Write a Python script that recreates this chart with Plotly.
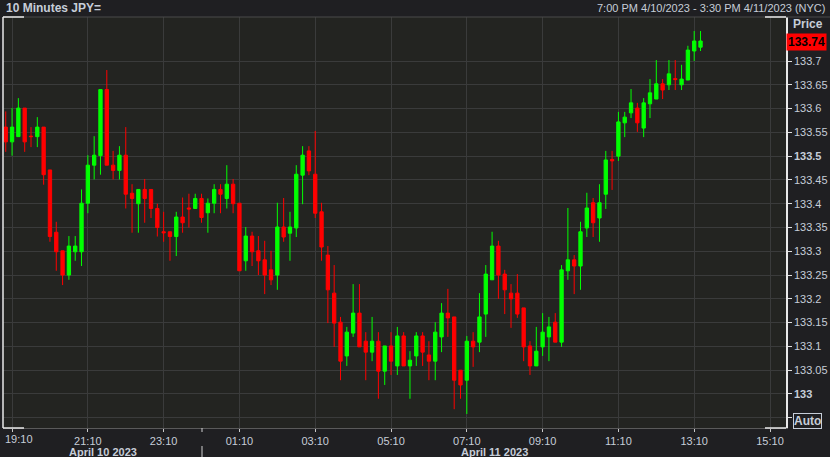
import pandas as pd
import plotly.graph_objects as go

# ---- data (10-minute JPY= candles) ----
start_time = "2023-04-10 19:00"
opens = [133.561, 133.530, 133.541, 133.601, 133.542, 133.541, 133.561, 133.471, 133.340, 133.301,
         133.250, 133.299, 133.299, 133.401, 133.481, 133.501, 133.640, 133.481, 133.470, 133.502,
         133.422, 133.400, 133.430, 133.430, 133.390, 133.341, 133.341, 133.331, 133.372, 133.391,
         133.390, 133.411, 133.381, 133.401, 133.430, 133.411, 133.441, 133.401, 133.280, 133.332,
         133.301, 133.282, 133.261, 133.250, 133.351, 133.338, 133.349, 133.460, 133.511, 133.462,
         133.383, 133.292, 133.212, 133.151, 133.080, 133.128, 133.170, 133.111, 133.088, 133.111,
         133.048, 133.101, 133.059, 133.122, 133.059, 133.080, 133.122, 133.082, 133.069, 133.120,
         133.170, 133.162, 133.050, 133.029, 133.111, 133.109, 133.168, 133.240, 133.311, 133.252,
         133.212, 133.212, 133.181, 133.101, 133.059, 133.099, 133.120, 133.151, 133.109, 133.259,
         133.282, 133.269, 133.349, 133.402, 133.370, 133.420, 133.493, 133.500, 133.570, 133.591,
         133.601, 133.559, 133.610, 133.620, 133.652, 133.650, 133.663, 133.650, 133.660, 133.721,
         133.729]
highs = [133.594, 133.601, 133.622, 133.601, 133.561, 133.582, 133.561, 133.471, 133.362, 133.301,
         133.332, 133.332, 133.430, 133.502, 133.542, 133.640, 133.681, 133.511, 133.521, 133.561,
         133.441, 133.430, 133.452, 133.430, 133.400, 133.383, 133.341, 133.383, 133.413, 133.421,
         133.421, 133.421, 133.411, 133.441, 133.441, 133.481, 133.452, 133.401, 133.351, 133.341,
         133.332, 133.322, 133.301, 133.402, 133.412, 133.383, 133.481, 133.521, 133.521, 133.553,
         133.402, 133.311, 133.271, 133.162, 133.141, 133.231, 133.231, 133.130, 133.162, 133.130,
         133.101, 133.130, 133.141, 133.130, 133.090, 133.130, 133.130, 133.111, 133.151, 133.191,
         133.221, 133.162, 133.050, 133.122, 133.130, 133.212, 133.271, 133.341, 133.322, 133.261,
         133.231, 133.252, 133.181, 133.111, 133.141, 133.170, 133.162, 133.170, 133.271, 133.391,
         133.292, 133.362, 133.423, 133.412, 133.441, 133.511, 133.511, 133.593, 133.593, 133.641,
         133.612, 133.622, 133.662, 133.702, 133.662, 133.702, 133.702, 133.692, 133.732, 133.763,
         133.763]
lows = [133.509, 133.501, 133.541, 133.509, 133.519, 133.519, 133.440, 133.320, 133.259, 133.229,
        133.240, 133.280, 133.269, 133.380, 133.451, 133.461, 133.481, 133.451, 133.451, 133.390,
        133.339, 133.339, 133.360, 133.370, 133.331, 133.320, 133.280, 133.290, 133.339, 133.350,
        133.390, 133.360, 133.339, 133.380, 133.380, 133.390, 133.380, 133.259, 133.259, 133.269,
        133.250, 133.210, 133.229, 133.219, 133.320, 133.280, 133.330, 133.399, 133.460, 133.370,
        133.280, 133.149, 133.099, 133.029, 133.059, 133.120, 133.099, 133.029, 133.069, 132.990,
        133.019, 133.040, 133.040, 133.059, 132.990, 133.059, 133.059, 133.029, 133.029, 133.088,
        133.120, 132.968, 132.990, 132.958, 133.057, 133.088, 133.120, 133.240, 133.200, 133.168,
        133.139, 133.160, 133.069, 133.040, 133.059, 133.080, 133.069, 133.109, 133.099, 133.240,
        133.210, 133.219, 133.330, 133.330, 133.320, 133.389, 133.429, 133.490, 133.540, 133.580,
        133.551, 133.540, 133.580, 133.620, 133.620, 133.639, 133.639, 133.639, 133.660, 133.700,
        133.721]
closes = [133.530, 133.561, 133.601, 133.530, 133.541, 133.561, 133.461, 133.331, 133.299, 133.250,
          133.311, 133.311, 133.401, 133.481, 133.502, 133.640, 133.481, 133.470, 133.502, 133.420,
          133.411, 133.430, 133.411, 133.390, 133.350, 133.339, 133.331, 133.372, 133.360, 133.389,
          133.411, 133.371, 133.401, 133.430, 133.420, 133.441, 133.400, 133.259, 133.332, 133.299,
          133.280, 133.250, 133.240, 133.351, 133.330, 133.351, 133.462, 133.502, 133.469, 133.380,
          133.309, 133.219, 133.149, 133.069, 133.130, 133.170, 133.099, 133.088, 133.111, 133.048,
          133.101, 133.069, 133.122, 133.059, 133.071, 133.122, 133.088, 133.069, 133.130, 133.170,
          133.160, 133.029, 133.019, 133.111, 133.099, 133.162, 133.252, 133.311, 133.250, 133.219,
          133.200, 133.168, 133.099, 133.059, 133.090, 133.130, 133.141, 133.109, 133.261, 133.282,
          133.269, 133.341, 133.391, 133.360, 133.402, 133.492, 133.490, 133.572, 133.582, 133.612,
          133.570, 133.612, 133.633, 133.652, 133.639, 133.673, 133.661, 133.662, 133.723, 133.742,
          133.742]

x_tick_vals = ["2023-04-10 19:10", "2023-04-10 21:10", "2023-04-10 23:10", "2023-04-11 01:10",
               "2023-04-11 03:10", "2023-04-11 05:10", "2023-04-11 07:10", "2023-04-11 09:10",
               "2023-04-11 11:10", "2023-04-11 13:10", "2023-04-11 15:10"]
x_tick_text = ["19:10", "21:10", "23:10", "01:10", "03:10", "05:10", "07:10", "09:10",
               "11:10", "13:10", "15:10"]
y_tick_vals = [132.95, 133.0, 133.05, 133.1, 133.15, 133.2, 133.25, 133.3, 133.35, 133.4,
               133.45, 133.5, 133.55, 133.6, 133.65, 133.7]
y_tick_text = ["", "<b>133</b>", "133.05", "133.1", "133.15", "133.2", "133.25", "133.3", "133.35",
               "133.4", "133.45", "<b>133.5</b>", "133.55", "133.6", "133.65", "133.7"]
last_price = 133.74
title_text = "10 Minutes JPY="
range_text = "7:00 PM 4/10/2023 - 3:30 PM 4/11/2023 (NYC)"
date_labels = ["April 10 2023", "April 11 2023"]

times = pd.date_range(start_time, periods=len(opens), freq="10min")

# ---- styling ----
W, H = 830, 457
L, R, T, B = 3, 44, 17, 29
PW, PH = W - L - R, H - T - B
TXT = "#c6cdd8"
GRID = "#3a3b3b"
FONT = "Liberation Sans, Arial, sans-serif"

def px(xp):
    return (xp - L) / PW

def py(yp):
    return (H - B - yp) / PH

fig = go.Figure(go.Candlestick(
    x=times, open=opens, high=highs, low=lows, close=closes,
    increasing=dict(line=dict(color="#00ff00", width=1), fillcolor="#00ff00"),
    decreasing=dict(line=dict(color="#ff0000", width=1), fillcolor="#ff0000"),
    whiskerwidth=0, showlegend=False, hoverinfo="skip",
))

shapes = []
white = dict(color="#e8e8e8", width=1.5)
shapes.append(dict(type="line", xref="paper", yref="paper", x0=0, x1=px(W), y0=1, y1=1,
                   line=dict(color="#4a4a4a", width=1)))
for (xa, xb, yv) in [(0, px(24), 1), (0, px(24), 0), (px(765), 1, 1), (px(765), 1, 0)]:
    shapes.append(dict(type="line", xref="paper", yref="paper", x0=xa, x1=xb, y0=yv, y1=yv, line=white))
shapes.append(dict(type="line", xref="paper", yref="paper", x0=0, x1=0, y0=0, y1=1, line=white))
shapes.append(dict(type="line", xref="paper", yref="paper", x0=px(202), x1=px(202),
                   y0=py(446), y1=py(457), line=dict(color="#d0d0d0", width=1)))
shapes.append(dict(type="line", xref="paper", yref="paper", x0=px(202), x1=px(202),
                   y0=py(428), y1=py(432), line=dict(color="#d0d0d0", width=1)))

# first time label is pushed right to stay inside the page (as in the original)
first_label = x_tick_text[0]
axis_tick_text = [""] + x_tick_text[1:]

annotations = [
    dict(text="<b>" + title_text + "</b>", xref="paper", yref="paper", x=px(4), y=py(8),
         xanchor="left", yanchor="middle", showarrow=False, font=dict(size=12, color=TXT, family=FONT)),
    dict(text=range_text, xref="paper", yref="paper", x=px(827), y=py(8),
         xanchor="right", yanchor="middle", showarrow=False, font=dict(size=11, color=TXT, family=FONT)),
    dict(text="<b>Price</b>", xref="paper", yref="paper", x=px(791), y=py(24),
         xanchor="left", yanchor="middle", showarrow=False, font=dict(size=12, color=TXT, family=FONT)),
    dict(text="<b>%.2f</b>" % last_price, xref="paper", yref="y", x=1, y=last_price,
         xanchor="left", yanchor="middle", showarrow=False, bgcolor="#ff0000", borderpad=1,
         font=dict(size=12, color="#000000", family=FONT)),
    dict(text="<b>Auto</b>", xref="paper", yref="paper", x=px(793), y=py(421),
         xanchor="left", yanchor="middle", showarrow=False, bordercolor=TXT, borderwidth=1, borderpad=0,
         font=dict(size=12, color=TXT, family=FONT)),
    dict(text=first_label, xref="paper", yref="paper", x=px(3), y=py(439),
         xanchor="left", yanchor="middle", showarrow=False, font=dict(size=11, color=TXT, family=FONT)),
    dict(text="<b>" + date_labels[0] + "</b>", xref="paper", yref="paper", x=px(103), y=py(451.5),
         xanchor="center", yanchor="middle", showarrow=False, font=dict(size=11, color=TXT, family=FONT)),
    dict(text="<b>" + date_labels[1] + "</b>", xref="paper", yref="paper", x=px(494), y=py(451.5),
         xanchor="center", yanchor="middle", showarrow=False, font=dict(size=11, color=TXT, family=FONT)),
]

fig.update_layout(
    width=W, height=H,
    margin=dict(l=L, r=R, t=T, b=B, pad=0, autoexpand=False),
    paper_bgcolor="#1f1f22",
    plot_bgcolor="#232421",
    font=dict(family=FONT, color=TXT, size=11),
    boxgap=0.25,
    shapes=shapes,
    annotations=annotations,
    xaxis=dict(
        type="date", automargin=False,
        range=["2023-04-10 18:55:40", "2023-04-11 15:35:20"],
        rangeslider=dict(visible=False),
        tickvals=x_tick_vals, ticktext=axis_tick_text,
        ticks="outside", ticklen=3, tickcolor="#c8c8c8", tickwidth=1,
        ticklabeloverflow="allow",
        showgrid=True, gridcolor=GRID, gridwidth=1,
        showline=True, linecolor="#5a5a5a", linewidth=1,
        zeroline=False, fixedrange=True,
        tickfont=dict(size=11, color=TXT, family=FONT),
    ),
    yaxis=dict(
        side="right", automargin=False,
        range=[132.9285, 133.7925],
        tickvals=y_tick_vals, ticktext=y_tick_text,
        ticks="outside", ticklen=4, tickcolor="#e0e0e0", tickwidth=1,
        ticklabeloverflow="allow",
        showgrid=True, gridcolor=GRID, gridwidth=1,
        showline=True, linecolor="#e8e8e8", linewidth=1.5,
        zeroline=False, fixedrange=True,
        tickfont=dict(size=11, color=TXT, family=FONT),
    ),
)

fig.write_html("out.html", config={"displayModeBar": False},
               post_script="document.body.style.margin='0';document.body.style.background='#1f1f22';")
